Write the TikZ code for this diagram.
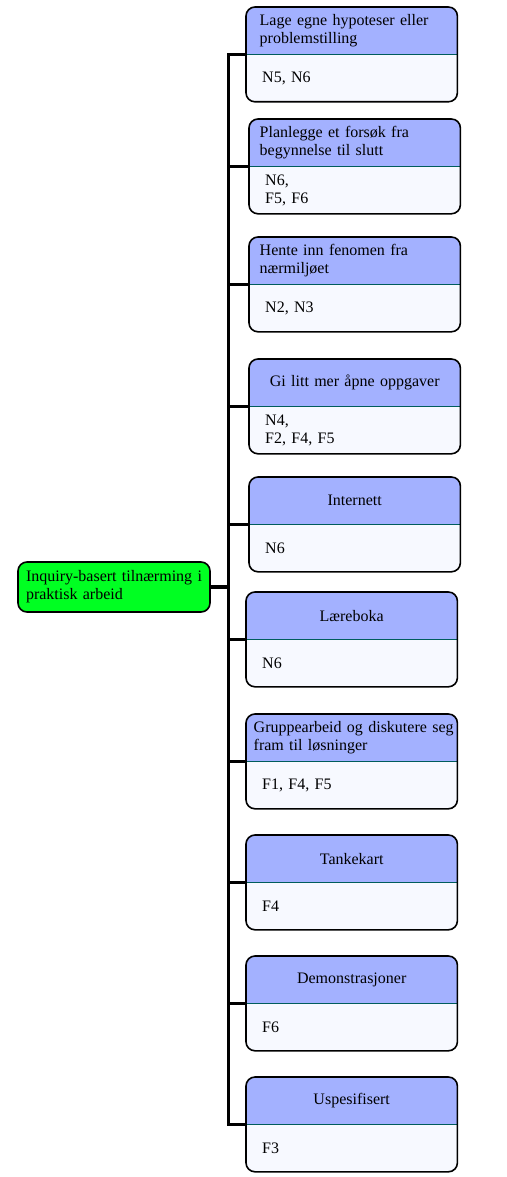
\documentclass[tikz,border=0pt]{standalone}
\usepackage{fontspec}
\setmainfont{Liberation Serif}

\definecolor{headblue}{RGB}{163,177,255}
\definecolor{bodyblue}{RGB}{247,249,255}
\definecolor{rootgreen}{RGB}{0,255,34}
\definecolor{divteal}{RGB}{0,92,92}

\tikzset{
  txt/.style={font=\fontsize{16}{18}\selectfont},
  rootbox/.style={txt, draw, line width=1.6pt, rounded corners=9pt, fill=rootgreen,
    minimum width=192pt, minimum height=50pt, text width=176pt, inner xsep=8pt, inner ysep=0pt, align=left},
  head/.style={txt, minimum width=211pt, minimum height=47pt, text width=190pt, inner xsep=10.5pt, inner ysep=0pt},
  body/.style={txt, minimum width=211pt, minimum height=47pt, text width=179pt, inner xsep=16pt, inner ysep=0pt, align=left},
  link/.style={line width=3.2pt},
}

\begin{document}
\begin{tikzpicture}[x=1pt,y=-1pt]
  \useasboundingbox (0,0) rectangle (506,1177);

  %%%%%%%%%%%%%The root%%%%%%%%%%%%%%%%%%%%%%
  \node[rootbox] (root) at (114,587) {Inquiry-basert tilnærming i\\praktisk arbeid};

  %%%%%%%%%%%%%The boxes%%%%%%%%%%%%%%%%%%%%%
  \foreach \nm/\x/\y/\al/\hd/\bd in {
    hypotese/246/7/left/{\hspace*{3pt}Lage egne hypoteser eller\\\hspace*{3pt}problemstilling}/{N5, N6},
    planlegge/249/119/left/{Planlegge et forsøk fra\\begynnelse til slutt}/{N6,\\F5, F6},
    fenomen/249/237/left/{Hente inn fenomen fra\\nærmiljøet}/{N2, N3},
    oppgaver/249/359/center/{Gi litt mer åpne oppgaver}/{N4,\\F2, F4, F5},
    internett/249/477/center/{Internett}/{N6},
    laereboka/246/592/center/{Læreboka}/{N6},
    gruppe/246/714/left/{\hspace*{-3pt}\mbox{Gruppearbeid og diskutere seg}\\\hspace*{-3pt}fram til løsninger}/{F1, F4, F5},
    tankekart/246/835/center/{Tankekart}/{F4},
    demo/246/956/center/{Demonstrasjoner}/{F6},
    uspes/246/1077/center/{Uspesifisert}/{F3}%
  }{
    \begin{scope}
      \clip[rounded corners=9pt] (\x,\y) rectangle ++(211,94);
      \fill[headblue] (\x,\y) rectangle ++(211,47);
      \fill[bodyblue] (\x,\y+47) rectangle ++(211,47);
    \end{scope}
    \node[head, align=\al, anchor=north west] (\nm) at (\x,\y) {\hd};
    \node[body, anchor=north west] (\nm-b) at (\nm.south west) {\bd};
    \draw[divteal, line width=1.4pt] (\nm.south west) -- (\nm.south east);
    \draw[line width=1.6pt, rounded corners=9pt] (\nm.north west) rectangle (\nm-b.south east);

    \draw[link] (root.east) -- ++(18,0) |- (\nm.south west);
  }
\end{tikzpicture}
\end{document}
